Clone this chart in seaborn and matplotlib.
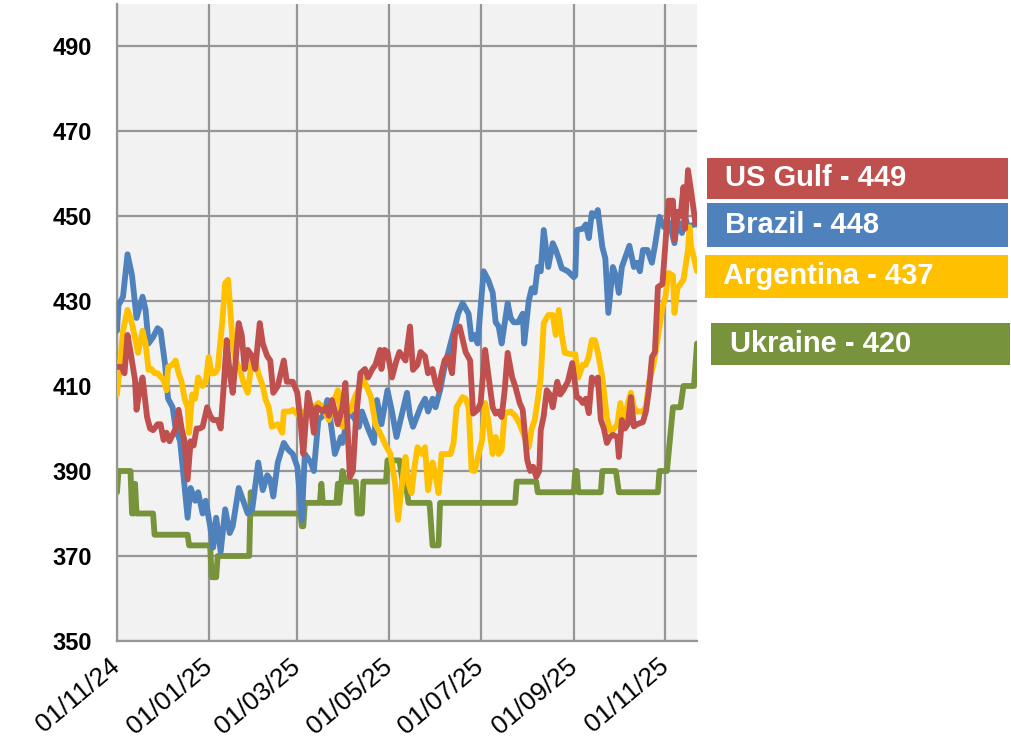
import matplotlib
matplotlib.use("Agg")
import matplotlib.pyplot as plt
import matplotlib.dates as mdates
from matplotlib.patches import Rectangle
import pandas as pd
import seaborn as sns

# ---------------- data (days since 2024-11-01, price USD/t) ----------------
START = "2024-11-01"

usgulf_days = [0, 3, 5, 7, 9, 12, 13, 15, 17, 20, 22, 24, 27, 29, 31, 33, 35, 39, 41, 43, 45, 47, 49, 51, 53, 55,
               57, 60, 62, 64, 67, 69, 71, 73, 75, 77, 79, 81, 83, 85, 87, 90, 92, 95, 97, 100, 102, 104, 107, 111,
               113, 117, 120, 122, 124, 127, 129, 131, 133, 137, 139, 141, 143, 145, 147, 150, 152, 155, 157, 159,
               162, 165, 167, 170, 172, 175, 176, 178, 180, 183, 186, 188, 192, 195, 197, 200, 202, 205, 207, 210,
               212, 214, 216, 218, 220, 223, 225, 228, 230, 232, 235, 237, 240, 242, 245, 247, 250, 252, 254, 256,
               258, 260, 263, 265, 268, 270, 273, 275, 277, 279, 281, 282, 284, 286, 288, 290, 293, 295, 297, 300,
               303, 306, 308, 310, 312, 314, 316, 318, 320, 322, 324, 326, 328, 330, 333, 334, 336, 338, 340, 342,
               344, 346, 350, 352, 354, 356, 358, 360, 363, 365, 367, 370, 371, 373, 375, 377, 378, 380, 382, 385, 386]
usgulf_vals = [414.5, 414.5, 413, 422, 418, 411.4, 404.4, 409, 412, 402.7, 400, 399.6, 401, 401, 397.3, 399, 397,
               400, 404.4, 400, 397, 388, 397, 396, 400, 400, 400.4, 405, 403, 402, 402, 400, 409.8, 420.8, 413,
               408.4, 416, 424.8, 422, 414, 418.5, 417, 414, 424.8, 420, 417, 416, 408.4, 410, 416, 411, 411, 408.4,
               402, 394, 408.4, 405, 399, 405, 404, 405, 403, 406.7, 404, 401, 405, 410.7, 388.6, 390, 402, 413, 414,
               412, 414, 415, 418.5, 414, 418.5, 418, 412, 416, 418, 416, 424, 413.8, 415, 418, 417, 413, 414, 410.7,
               409, 413, 416, 417, 413, 422.5, 424, 421, 418, 416, 403.5, 404.4, 406, 418.5, 413, 405, 403.5, 404,
               402.7, 409, 417.8, 412, 410, 406, 404.4, 392.6, 390, 391, 388.6, 390, 399.6, 403, 409, 408, 405, 411,
               408, 409, 411, 415.4, 407.4, 407, 406, 407, 403.6, 412, 411, 412, 402, 400, 396.6, 398, 398.5, 398,
               393.3, 402, 400, 401, 407.4, 400.5, 401, 401.5, 404, 409, 416.8, 418, 433.3, 434, 443.6, 453.6, 453.6,
               444.4, 451, 450, 456.8, 447, 460.8, 456, 448.3, 449]

brazil_days = [0, 1, 4, 7, 10, 13, 17, 19, 21, 24, 27, 29, 32, 34, 37, 39, 42, 47, 49, 52, 54, 57, 59, 62, 64, 66,
               69, 72, 75, 77, 81, 84, 87, 90, 94, 97, 100, 102, 104, 107, 111, 114, 117, 120, 123, 125, 129, 131,
               134, 137, 140, 142, 145, 149, 150, 153, 155, 157, 161, 163, 167, 171, 173, 176, 180, 183, 186, 190,
               193, 195, 197, 202, 205, 207, 210, 212, 215, 218, 222, 225, 227, 230, 234, 236, 238, 240, 244, 247,
               250, 252, 254, 256, 260, 262, 264, 267, 270, 271, 274, 276, 278, 280, 282, 284, 287, 290, 292, 294,
               296, 300, 304, 305, 306, 310, 312, 314, 316, 318, 320, 323, 325, 327, 330, 332, 334, 336, 338, 341,
               344, 346, 348, 350, 353, 356, 358, 361, 364, 366, 368, 371, 373, 376, 378, 380, 384, 386]
brazil_vals = [423, 429, 431, 441, 436, 426, 431, 428, 420, 421.5, 423.6, 423, 415, 407, 405, 400, 397, 379, 386, 383,
               385, 380, 383, 377, 372, 379, 371, 381, 375.4, 377, 386, 383, 380, 381, 392, 385.5, 389, 388, 384, 392,
               396.6, 395, 394, 391, 378.5, 394, 392, 390, 402, 403, 406.7, 402, 394, 398, 396.6, 402, 404, 403,
               400.4, 404, 400, 396.6, 406.7, 401, 409, 404, 398, 404, 408.4, 403, 400.4, 405, 407, 404, 407, 405,
               409, 414.5, 420, 424, 427, 429.5, 427, 421, 422, 420, 437, 435, 432, 425, 424, 420, 429.5, 426, 425,
               425, 427, 420, 430, 433, 432, 438, 437, 446.7, 438, 443.6, 442, 440, 437.7, 437, 435.6, 436, 446.7,
               447, 448, 444.8, 450.7, 450, 451.4, 442.7, 440, 427.2, 438, 436, 431.9, 438, 440, 443, 438, 439, 437,
               442, 442, 439, 443, 449.8, 447.4, 449, 448, 443.6, 449, 446, 449.8, 447.4, 448, 448]

argentina_days = [0, 2, 4, 7, 9, 11, 14, 17, 19, 21, 23, 25, 27, 31, 33, 34, 37, 39, 41, 43, 45, 47, 48, 50, 52, 54,
                  57, 59, 61, 63, 65, 67, 70, 72, 74, 77, 79, 82, 84, 87, 90, 92, 94, 97, 99, 101, 103, 107, 110, 111,
                  115, 117, 121, 124, 127, 131, 134, 137, 141, 143, 145, 147, 150, 152, 155, 159, 162, 163, 166, 169,
                  172, 175, 178, 182, 185, 187, 190, 192, 194, 196, 198, 200, 203, 205, 207, 210, 212, 214, 216, 220,
                  222, 224, 226, 230, 232, 234, 236, 238, 240, 243, 245, 247, 250, 252, 254, 256, 258, 262, 265, 268,
                  272, 274, 276, 278, 280, 282, 284, 287, 290, 292, 294, 296, 298, 302, 305, 307, 310, 312, 314, 316,
                  318, 320, 323, 326, 328, 330, 333, 335, 337, 340, 342, 344, 346, 350, 352, 354, 357, 360, 363, 365,
                  367, 370, 371, 373, 375, 377, 380, 381, 382, 384, 386]
argentina_vals = [408, 415, 423, 427.9, 426, 423, 417.8, 423, 420, 413.8, 414, 413, 413, 411.4, 409, 414.5, 415, 416,
                  413, 411, 407, 405, 399, 408, 407, 412, 410, 411, 416.8, 413, 413, 414, 424.8, 434.2, 435, 420, 416,
                  413.8, 411, 408.4, 416.8, 416, 413, 410, 406.7, 405, 400.4, 401, 399, 404, 404, 404.4, 403, 404,
                  404.4, 405, 406, 405, 402, 405, 407, 409, 400.4, 404, 404, 408, 410, 412, 410, 407.4, 401, 399,
                  396.6, 394, 387.2, 378.5, 388, 393.3, 387, 384.8, 391, 395.6, 394, 395.6, 385.5, 392, 389, 384.8,
                  394, 394, 394, 396.6, 405, 407.4, 407, 405, 390.2, 390, 393, 397.3, 406, 402, 394, 398, 394, 395,
                  403.6, 404, 403, 401, 397.3, 395.6, 400, 402, 406.7, 412, 424.8, 426.7, 426.7, 422, 427.9, 422,
                  417.8, 417.5, 417.5, 412, 415, 415, 417, 420.8, 420.8, 418, 412, 402.7, 399.6, 399.6, 401, 406, 401,
                  406, 408.4, 405, 404, 404, 405, 410.7, 415, 421.5, 428.6, 431, 436.6, 436, 427.2, 433, 434, 435, 442,
                  447.4, 443, 440, 437]

ukraine_days = [0, 1, 9, 10, 11, 12, 13, 24, 25, 47, 48, 62, 63, 66, 67, 88, 89, 90, 122, 123, 124, 125, 135, 136,
                137, 146, 147, 148, 150, 152, 159, 160, 163, 164, 179, 180, 188, 190, 192, 194, 208, 210, 214, 215,
                265, 266, 279, 280, 304, 305, 306, 307, 322, 323, 332, 334, 360, 361, 366, 370, 375, 377, 384, 386]
ukraine_vals = [385, 390, 390, 380, 380, 387, 380, 380, 375, 375, 372.5, 372.5, 365, 365, 370, 370, 385, 380, 380,
                377, 377, 382.5, 382.5, 387, 382.5, 382.5, 387, 382.5, 390, 387.5, 387.5, 380, 380, 387.5, 387.5,
                392.5, 392.5, 387.5, 387.5, 382.5, 382.5, 372.5, 372.5, 382.5, 382.5, 387.5, 387.5, 385, 385, 390,
                390, 385, 385, 390, 390, 385, 385, 390, 390, 405, 405, 410, 410, 420]

series_names = ["US Gulf", "Brazil", "Argentina", "Ukraine"]
series_colors = {"US Gulf": "#C0504D", "Brazil": "#4F81BD", "Argentina": "#FFC000", "Ukraine": "#77933C"}
y_ticks = [350, 370, 390, 410, 430, 450, 470, 490]
x_ticks = ["2024-11-01", "2025-01-01", "2025-03-01", "2025-05-01", "2025-07-01", "2025-09-01", "2025-11-01"]

raw = {"US Gulf": (usgulf_days, usgulf_vals), "Brazil": (brazil_days, brazil_vals),
       "Argentina": (argentina_days, argentina_vals), "Ukraine": (ukraine_days, ukraine_vals)}
frames = []
for name, (d, v) in raw.items():
    frames.append(pd.DataFrame({"Date": pd.Timestamp(START) + pd.to_timedelta(d, unit="D"),
                                "Price": v, "Series": name}))
df = pd.concat(frames, ignore_index=True)

# ---------------- style ----------------
sns.set_style("whitegrid", {"axes.facecolor": "#F2F2F2", "grid.color": "#969696",
                            "axes.edgecolor": "#969696"})
plt.rcParams["font.family"] = ["Liberation Sans", "DejaVu Sans"]

W, H = 1011, 742
fig = plt.figure(figsize=(W / 100, H / 100), dpi=100)
ax = fig.add_axes([117 / W, 1 - 641 / H, 580 / W, (641 - 3.5) / H])

zorders = {"Ukraine": 2, "Brazil": 3, "Argentina": 4, "US Gulf": 5}
for name in ["Ukraine", "Brazil", "Argentina", "US Gulf"]:
    sub = df[df["Series"] == name]
    sns.lineplot(data=sub, x="Date", y="Price", ax=ax, color=series_colors[name], linewidth=4.2,
                 legend=False, zorder=zorders[name], estimator=None)
for ln in ax.get_lines():
    ln.set_solid_joinstyle("round")
    ln.set_solid_capstyle("round")

ax.set_ylim(350, 500)
ax.set_xlim(pd.Timestamp(START), pd.Timestamp(START) + pd.Timedelta(days=386))
ax.set_yticks(y_ticks)
ax.set_xticks(pd.to_datetime(x_ticks))
ax.xaxis.set_major_formatter(mdates.DateFormatter("%d/%m/%y"))
ax.set_xlabel("")
ax.set_ylabel("")
ax.grid(True, color="#969696", linewidth=1.6)
for s in ["top", "right"]:
    ax.spines[s].set_visible(False)
for s in ["left", "bottom"]:
    ax.spines[s].set_visible(True)
    ax.spines[s].set_color("#969696")
    ax.spines[s].set_linewidth(1.6)
ax.tick_params(axis="both", which="major", length=7, width=1.4, color="#969696", labelcolor="black")
ax.tick_params(axis="y", pad=11)
ax.tick_params(axis="x", pad=9)
for t in ax.get_yticklabels():
    t.set_fontweight("bold")
    t.set_fontsize(17)
for t in ax.get_xticklabels():
    t.set_fontsize(19)
    t.set_rotation(40)
    t.set_ha("right")
    t.set_va("center")
    t.set_rotation_mode("anchor")

# ---------------- end labels ----------------
boxes = {"US Gulf": (707, 158, 301, 41, 725), "Brazil": (707, 203, 301, 44, 725),
         "Argentina": (705, 255, 303, 43, 723), "Ukraine": (711, 323, 299, 42, 730)}
for name in series_names:
    x0, y0, w, h, tx = boxes[name]
    last = raw[name][1][-1]
    fig.patches.append(Rectangle((x0 / W, 1 - (y0 + h) / H), w / W, h / H, transform=fig.transFigure,
                                 facecolor=series_colors[name], edgecolor="none"))
    fig.text(tx / W, 1 - (y0 + h / 2) / H, f"{name} - {int(round(last))}", color="white",
             fontsize=21, fontweight="bold", va="center", ha="left")

fig.savefig("out.png", dpi=100)
